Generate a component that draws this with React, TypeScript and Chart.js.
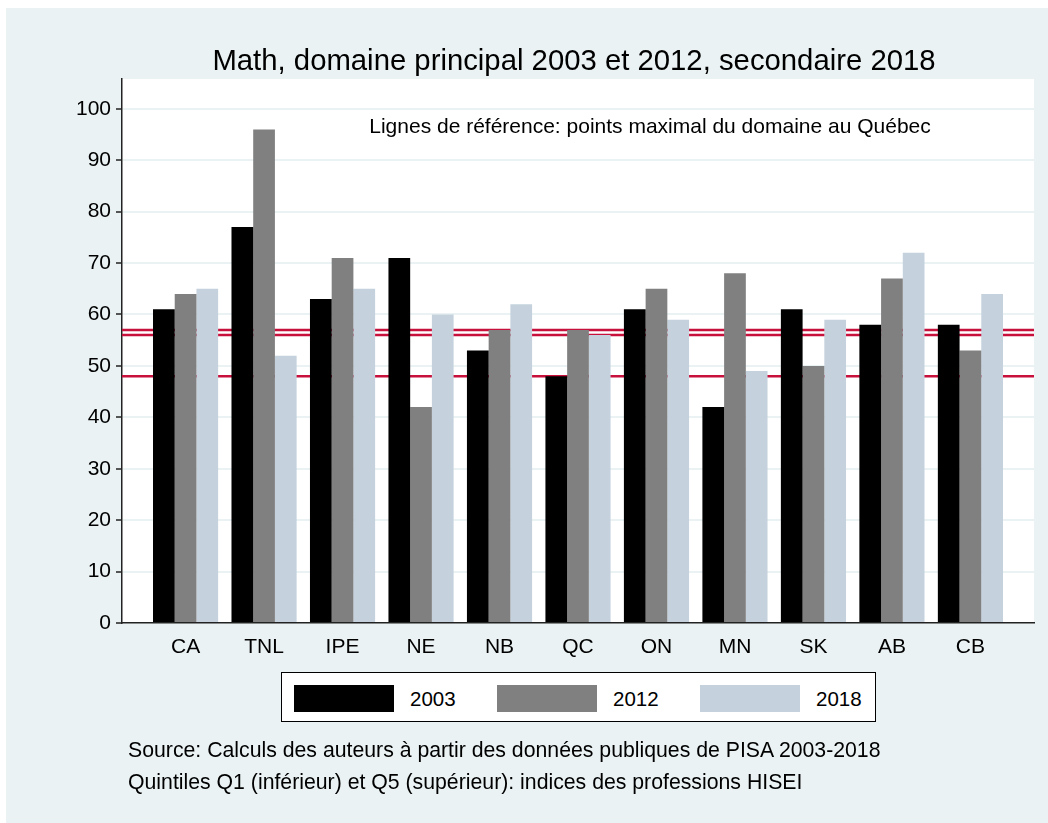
import React, { useEffect, useRef } from "react";
import { Chart, registerables } from "chart.js";

Chart.register(...registerables);

const categories = ["CA", "TNL", "IPE", "NE", "NB", "QC", "ON", "MN", "SK", "AB", "CB"];
const seriesNames = ["2003", "2012", "2018"];
const values2003 = [61, 77, 63, 71, 53, 48, 61, 42, 61, 58, 58];
const values2012 = [64, 96, 71, 42, 57, 57, 65, 68, 50, 67, 53];
const values2018 = [65, 52, 65, 60, 62, 56, 59, 49, 59, 72, 64];
const seriesColors = ["#000000", "#808080", "#c5d2de"];
const refLines = [57, 56, 48];
const yTicks = [0, 10, 20, 30, 40, 50, 60, 70, 80, 90, 100];

const titleText = "Math, domaine principal 2003 et 2012, secondaire 2018";
const annotationText = "Lignes de référence: points maximal du domaine au Québec";
const notes = [
  "Source: Calculs des auteurs à partir des données publiques de PISA 2003-2018",
  "Quintiles Q1 (inférieur) et Q5 (supérieur): indices des professions HISEI",
];

const FONT = '"Liberation Sans", Arial, Helvetica, sans-serif';
const BG = "#eaf2f3";

const overlayPlugin = {
  id: "overlay",
  beforeDatasetsDraw(chart: any) {
    const { ctx, chartArea, scales } = chart;
    ctx.save();
    ctx.strokeStyle = "#c8103c";
    ctx.lineWidth = 2.5;
    refLines.forEach((v) => {
      const y = scales.y.getPixelForValue(v);
      ctx.beginPath();
      ctx.moveTo(chartArea.left, y);
      ctx.lineTo(chartArea.right, y);
      ctx.stroke();
    });
    ctx.restore();
  },
  afterDraw(chart: any) {
    const { ctx } = chart;
    ctx.save();
    ctx.fillStyle = "#000";
    ctx.textBaseline = "middle";
    ctx.textAlign = "center";
    ctx.font = `29.3px ${FONT}`;
    ctx.fillText(titleText, 568, 54);
    ctx.font = `21px ${FONT}`;
    ctx.fillText(annotationText, 644, 119);
    ctx.restore();
  },
};

export default function App() {
  const canvasRef = useRef<HTMLCanvasElement | null>(null);

  useEffect(() => {
    const canvas = canvasRef.current;
    if (!canvas) return;
    const allValues = [values2003, values2012, values2018];
    const chart = new Chart(canvas, {
      type: "bar",
      data: {
        datasets: allValues.map((vals, s) => ({
          label: seriesNames[s],
          data: vals.map((v, i) => ({ x: i, y: v })),
          backgroundColor: seriesColors[s],
          borderWidth: 0,
          barPercentage: 1,
          categoryPercentage: 0.83,
        })),
      },
      options: {
        responsive: false,
        animation: false,
        layout: { padding: { left: 0, top: 71, right: 14, bottom: 160 } },
        plugins: {
          legend: { display: false },
          title: { display: false },
          tooltip: { enabled: false },
        },
        scales: {
          x: {
            type: "linear",
            offset: false,
            min: -0.81,
            max: 10.81,
            grid: { display: false, drawTicks: false, offset: false },
            border: { display: true, color: "#222", width: 1.5 },
            afterBuildTicks: (axis: any) => {
              axis.ticks = categories.map((_, i) => ({ value: i }));
            },
            afterFit: (axis: any) => {
              axis.height = 40;
            },
            ticks: {
              autoSkip: false,
              maxRotation: 0,
              padding: 12,
              color: "#000",
              font: { family: FONT, size: 21 },
              callback: (v: any) => categories[Math.round(Number(v))] ?? "",
            },
          },
          y: {
            type: "linear",
            min: 0,
            max: 105.8,
            afterBuildTicks: (axis: any) => {
              axis.ticks = yTicks.map((v) => ({ value: v }));
            },
            afterFit: (axis: any) => {
              axis.width = 116;
            },
            grid: {
              color: BG,
              lineWidth: 2,
              tickColor: "#222",
              tickLength: 6,
              tickWidth: 1.5,
            },
            border: { display: true, color: "#222", width: 1.5 },
            ticks: {
              padding: 5,
              color: "#000",
              font: { family: FONT, size: 21 },
            },
          },
        },
      },
      plugins: [
        {
          id: "plotBg",
          beforeDraw(c: any) {
            const { ctx, chartArea } = c;
            ctx.save();
            ctx.fillStyle = "#ffffff";
            ctx.fillRect(chartArea.left, chartArea.top, chartArea.right - chartArea.left, chartArea.bottom - chartArea.top);
            ctx.restore();
          },
        },
        overlayPlugin,
      ],
    });
    return () => chart.destroy();
  }, []);

  return (
    <div
      style={{
        position: "absolute",
        left: 6,
        top: 8,
        width: 1042,
        height: 815,
        background: BG,
        fontFamily: FONT,
        color: "#000",
        overflow: "hidden",
      }}
    >
      <canvas ref={canvasRef} width={1042} height={815} style={{ position: "absolute", left: 0, top: 0 }} />
      <div
        style={{
          position: "absolute",
          left: 275,
          top: 664,
          width: 593,
          height: 48,
          background: "#fff",
          border: "1px solid #000",
        }}
      >
        {seriesNames.map((name, s) => (
          <React.Fragment key={name}>
            <div
              style={{
                position: "absolute",
                left: 12 + s * 203,
                top: 12,
                width: 100,
                height: 27,
                background: seriesColors[s],
              }}
            />
            <div
              style={{
                position: "absolute",
                left: 128 + s * 203,
                top: 12,
                height: 27,
                lineHeight: "27px",
                fontSize: 20.5,
              }}
            >
              {name}
            </div>
          </React.Fragment>
        ))}
      </div>
      {notes.map((n, i) => (
        <div
          key={i}
          style={{
            position: "absolute",
            left: 122,
            top: 729 + i * 32,
            lineHeight: "26px",
            fontSize: 21.25,
            whiteSpace: "nowrap",
          }}
        >
          {n}
        </div>
      ))}
    </div>
  );
}
